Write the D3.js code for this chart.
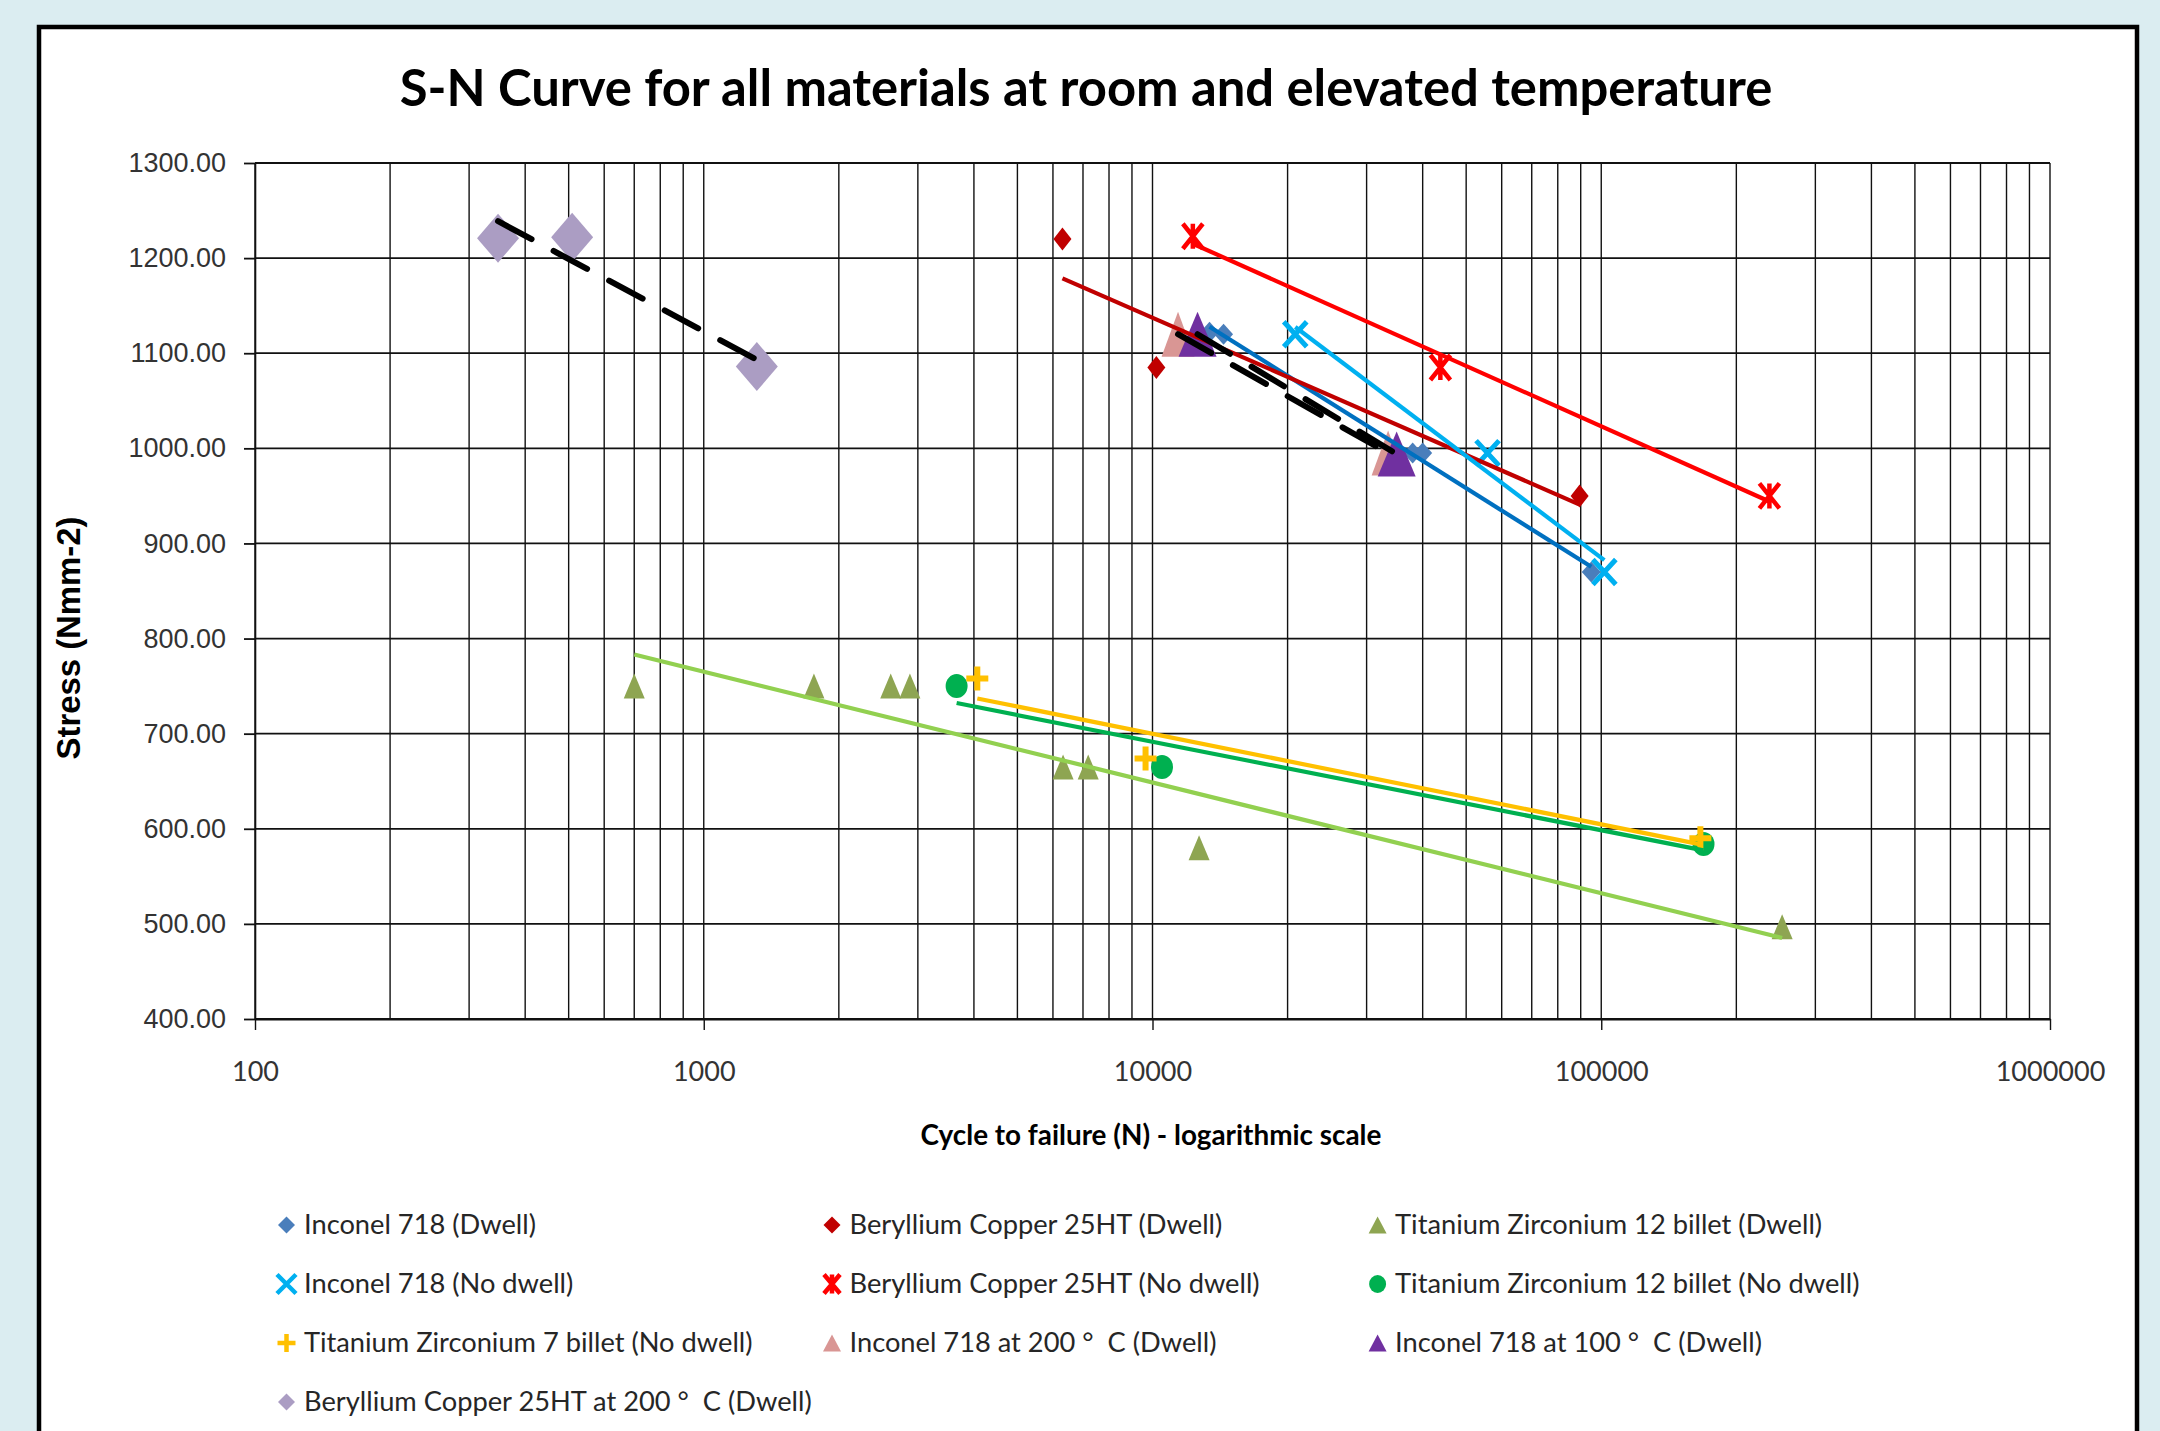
<!DOCTYPE html>
<html>
<head>
<meta charset="utf-8">
<script src="https://cdn.jsdelivr.net/npm/d3@7"></script>
<style>
  body { margin: 0; background: #dbedf1; }
  svg { display: block; }
</style>
</head>
<body>
<div id="chart"></div>
<script>
//Datos (N = ciclos, S = tensión)
const seriesNames = [
    'Inconel 718 (Dwell)',
    'Beryllium Copper 25HT (Dwell)',
    'Titanium Zirconium 12 billet (Dwell)',
    'Inconel 718 (No dwell)',
    'Beryllium Copper 25HT (No dwell)',
    'Titanium Zirconium 12 billet (No dwell)',
    'Titanium Zirconium 7 billet (No dwell)',
    'Inconel 718 at 200 °  C (Dwell)',
    'Inconel 718 at 100 °  C (Dwell)',
    'Beryllium Copper 25HT at 200 °  C (Dwell)'
];

const inconelDwellN = [13400, 14400, 38000, 40000, 95000];
const inconelDwellS = [1122, 1120, 995, 995, 870];
const beCuDwellN = [6300, 10200, 89500];
const beCuDwellS = [1220, 1085, 950];
const tiZr12DwellN = [700, 1760, 2610, 2880, 6320, 7190, 12700, 253000];
const tiZr12DwellS = [750, 750, 750, 750, 665, 665, 580, 497];
const inconelNoDwellN = [20800, 55800, 101600];
const inconelNoDwellS = [1120, 995, 870];
const beCuNoDwellN = [12300, 43800, 237000];
const beCuNoDwellS = [1223, 1085, 950];
const tiZr12NoDwellN = [3660, 10500, 169000];
const tiZr12NoDwellS = [750, 665, 584];
const tiZr7NoDwellN = [4070, 9650, 166300];
const tiZr7NoDwellS = [758, 674, 590];
const inconel200N = [11400, 33500];
const inconel200S = [1120, 995];
const inconel100N = [12600, 35000];
const inconel100S = [1120, 994];
const beCu200N = [348, 509, 1313];
const beCu200S = [1221, 1222, 1086];

const xTicks = [100, 1000, 10000, 100000, 1000000];
const yTicks = [400, 500, 600, 700, 800, 900, 1000, 1100, 1200, 1300];

//Estilos de cada serie (marcador y línea de tendencia)
const styles = [
    {marker: 'diamond',  color: '#4a7ebb', w: 19, h: 21, line: '#0070c0'},
    {marker: 'diamond',  color: '#c00000', w: 18, h: 23, line: '#c00000'},
    {marker: 'triangle', color: '#8ea552', w: 21, h: 25, line: '#92d050'},
    {marker: 'x',        color: '#00b0f0', w: 23, h: 25, sw: 5, line: '#00b0f0'},
    {marker: 'star',     color: '#ff0000', w: 20, h: 25, sw: 4.5, line: '#ff0000'},
    {marker: 'circle',   color: '#00b050', w: 22, h: 24, line: '#00b050'},
    {marker: 'plus',     color: '#ffc000', w: 22, h: 24, sw: 6, line: '#ffc000'},
    {marker: 'triangle', color: '#d99694', w: 33, h: 45, line: '#000', dash: true},
    {marker: 'triangle', color: '#7030a0', w: 38, h: 45, line: '#000', dash: true},
    {marker: 'diamond',  color: '#ab9dc3', w: 42, h: 49, line: '#000', dash: true}
];

const seriesN = [inconelDwellN, beCuDwellN, tiZr12DwellN, inconelNoDwellN, beCuNoDwellN,
    tiZr12NoDwellN, tiZr7NoDwellN, inconel200N, inconel100N, beCu200N];
const seriesS = [inconelDwellS, beCuDwellS, tiZr12DwellS, inconelNoDwellS, beCuNoDwellS,
    tiZr12NoDwellS, tiZr7NoDwellS, inconel200S, inconel100S, beCu200S];

const data = seriesNames.map(function(name, i) {
    return {
        name: name,
        style: styles[i],
        points: seriesN[i].map(function(n, j) { return {n: n, s: seriesS[i][j]}; })
    };
});

const W = 2160, H = 1431;
const plot = {x0: 255, x1: 2050, y0: 163, y1: 1019};

let svg = d3.select('#chart').append('svg')
    .attr('width', W)
    .attr('height', H);

//Fondo y marco
svg.append('rect').attr('width', W).attr('height', H).attr('fill', '#dbedf1');
svg.append('rect')
    .attr('x', 39).attr('y', 27)
    .attr('width', 2098).attr('height', H + 20)
    .attr('fill', '#fff')
    .attr('stroke', '#000')
    .attr('stroke-width', 4.5);

let x = d3.scaleLog().domain([100, 1000000]).range([plot.x0, plot.x1]);
let y = d3.scaleLinear().domain([400, 1300]).range([plot.y1, plot.y0]);

//Rejilla vertical (escala logarítmica)
svg.append('g')
    .selectAll('line')
    .data(x.ticks())
    .enter()
    .append('line')
    .attr('x1', function(d) { return x(d); })
    .attr('x2', function(d) { return x(d); })
    .attr('y1', plot.y0)
    .attr('y2', plot.y1)
    .attr('stroke', '#111')
    .attr('stroke-width', 1.4);

//Rejilla horizontal
svg.append('g')
    .selectAll('line')
    .data(yTicks)
    .enter()
    .append('line')
    .attr('x1', plot.x0)
    .attr('x2', plot.x1)
    .attr('y1', function(d) { return y(d); })
    .attr('y2', function(d) { return y(d); })
    .attr('stroke', '#111')
    .attr('stroke-width', 1.8);

//Ejes
let yAxis = svg.append('g')
    .attr('transform', 'translate(' + plot.x0 + ',0)')
    .call(d3.axisLeft(y).tickValues(yTicks).tickFormat(d3.format('.2f')).tickSize(11).tickSizeOuter(0).tickPadding(18));
yAxis.selectAll('line').attr('stroke', '#111').attr('stroke-width', 1.8);
yAxis.select('.domain').attr('stroke', '#111').attr('stroke-width', 1.6);
yAxis.selectAll('text')
    .attr('font-family', '"Liberation Sans", Arial, sans-serif')
    .attr('font-size', 27)
    .attr('fill', '#333');

let xAxis = svg.append('g')
    .attr('transform', 'translate(0,' + plot.y1 + ')')
    .call(d3.axisBottom(x).tickValues(xTicks).tickFormat(d3.format('d')).tickSize(11).tickSizeOuter(0).tickPadding(32));
xAxis.selectAll('line').attr('stroke', '#111').attr('stroke-width', 1.4);
xAxis.select('.domain').attr('stroke', '#111').attr('stroke-width', 1.8);
xAxis.selectAll('text')
    .attr('font-family', 'Lato, sans-serif')
    .attr('font-size', 27)
    .attr('fill', '#333');

//Ajuste del tamaño de letra a un ancho objetivo
function fitText(sel, targetW) {
    let w = sel.node().getComputedTextLength();
    let fs = parseFloat(sel.attr('font-size'));
    sel.attr('font-size', fs * targetW / w);
    return fs * targetW / w;
}

//Títulos
let title = svg.append('text')
    .attr('x', 1086).attr('y', 106)
    .attr('text-anchor', 'middle')
    .attr('font-family', 'Lato, sans-serif')
    .attr('font-weight', 'bold')
    .attr('font-size', 50)
    .attr('fill', '#000')
    .text('S-N Curve for all materials at room and elevated temperature');
fitText(title, 1373);

let xTitle = svg.append('text')
    .attr('x', 1151).attr('y', 1145)
    .attr('text-anchor', 'middle')
    .attr('font-family', 'Lato, sans-serif')
    .attr('font-weight', 'bold')
    .attr('font-size', 28)
    .attr('fill', '#000')
    .text('Cycle to failure (N) - logarithmic scale');
fitText(xTitle, 461);

let yTitle = svg.append('text')
    .attr('transform', 'translate(80,638) rotate(-90)')
    .attr('text-anchor', 'middle')
    .attr('font-family', '"Liberation Sans", Arial, sans-serif')
    .attr('font-weight', 'bold')
    .attr('font-size', 30)
    .attr('fill', '#000')
    .text('Stress (Nmm-2)');
fitText(yTitle, 243);

//Marcadores
function drawMarker(g, st, w, h, sw) {
    let c = st.color;
    if (st.marker == 'diamond') {
        g.append('path').attr('d', 'M0,' + (-h/2) + 'L' + (w/2) + ',0L0,' + (h/2) + 'L' + (-w/2) + ',0Z').attr('fill', c);
    } else if (st.marker == 'triangle') {
        g.append('path').attr('d', 'M0,' + (-h/2) + 'L' + (w/2) + ',' + (h/2) + 'L' + (-w/2) + ',' + (h/2) + 'Z').attr('fill', c);
    } else if (st.marker == 'circle') {
        g.append('ellipse').attr('rx', w/2).attr('ry', h/2).attr('fill', c);
    } else {
        let d = '';
        if (st.marker == 'x' || st.marker == 'star') {
            d += 'M' + (-w/2) + ',' + (-h/2) + 'L' + (w/2) + ',' + (h/2) + 'M' + (w/2) + ',' + (-h/2) + 'L' + (-w/2) + ',' + (h/2);
        }
        if (st.marker == 'star') {
            d += 'M0,' + (-h/2) + 'L0,' + (h/2);
        }
        if (st.marker == 'plus') {
            d += 'M' + (-w/2) + ',0L' + (w/2) + ',0M0,' + (-h/2) + 'L0,' + (h/2);
        }
        g.append('path').attr('d', d).attr('fill', 'none').attr('stroke', c).attr('stroke-width', sw);
    }
}

let markersG = svg.append('g');
data.forEach(function(serie) {
    markersG.selectAll(null)
        .data(serie.points)
        .enter()
        .append('g')
        .attr('transform', function(d) { return 'translate(' + x(d.n) + ',' + y(d.s) + ')'; })
        .each(function() {
            drawMarker(d3.select(this), serie.style, serie.style.w, serie.style.h, serie.style.sw);
        });
});

//Líneas de tendencia logarítmicas (mínimos cuadrados sobre log10 N)
function trend(points) {
    let lx = points.map(function(p) { return Math.log10(p.n); });
    let mx = d3.mean(lx), my = d3.mean(points, function(p) { return p.s; });
    let sxy = d3.sum(points, function(p, i) { return (lx[i] - mx) * (p.s - my); });
    let sxx = d3.sum(lx, function(v) { return (v - mx) * (v - mx); });
    let b = sxy / sxx;
    let ext = d3.extent(points, function(p) { return p.n; });
    return ext.map(function(n) { return [n, my + b * (Math.log10(n) - mx)]; });
}

let line = d3.line()
    .x(function(d) { return x(d[0]); })
    .y(function(d) { return y(d[1]); });

let trendG = svg.append('g');
data.forEach(function(serie) {
    let p = trendG.append('path')
        .datum(trend(serie.points))
        .attr('d', line)
        .attr('fill', 'none')
        .attr('stroke', serie.style.line);
    if (serie.style.dash) {
        p.attr('stroke-width', 6)
            .attr('stroke-linecap', 'round')
            .attr('stroke-dasharray', '38,25');
    } else {
        p.attr('stroke-width', 4.2);
    }
});

//Leyenda
const legendX = [286.5, 832, 1377.6];
const legendY = [1225, 1284, 1343, 1402];
const legendSize = {diamond: [17, 17], triangle: [18, 17], x: [19, 19], star: [16, 19], circle: [17, 18], plus: [18, 18]};

let legend = svg.append('g');
let items = legend.selectAll('g')
    .data(data)
    .enter()
    .append('g')
    .attr('transform', function(d, i) { return 'translate(' + legendX[i % 3] + ',' + legendY[Math.floor(i / 3)] + ')'; });

items.each(function(d) {
    let sz = legendSize[d.style.marker];
    drawMarker(d3.select(this), d.style, sz[0], sz[1], 4.5);
});

let legendTexts = items.append('text')
    .attr('x', 17.5)
    .attr('y', 9)
    .attr('font-family', 'Lato, sans-serif')
    .attr('font-size', 28)
    .attr('fill', '#262626')
    .style('white-space', 'pre')
    .text(function(d) { return d.name; });

let fs = fitText(d3.select(legendTexts.nodes()[0]), 232);
legendTexts.attr('font-size', fs);
</script>
</body>
</html>
